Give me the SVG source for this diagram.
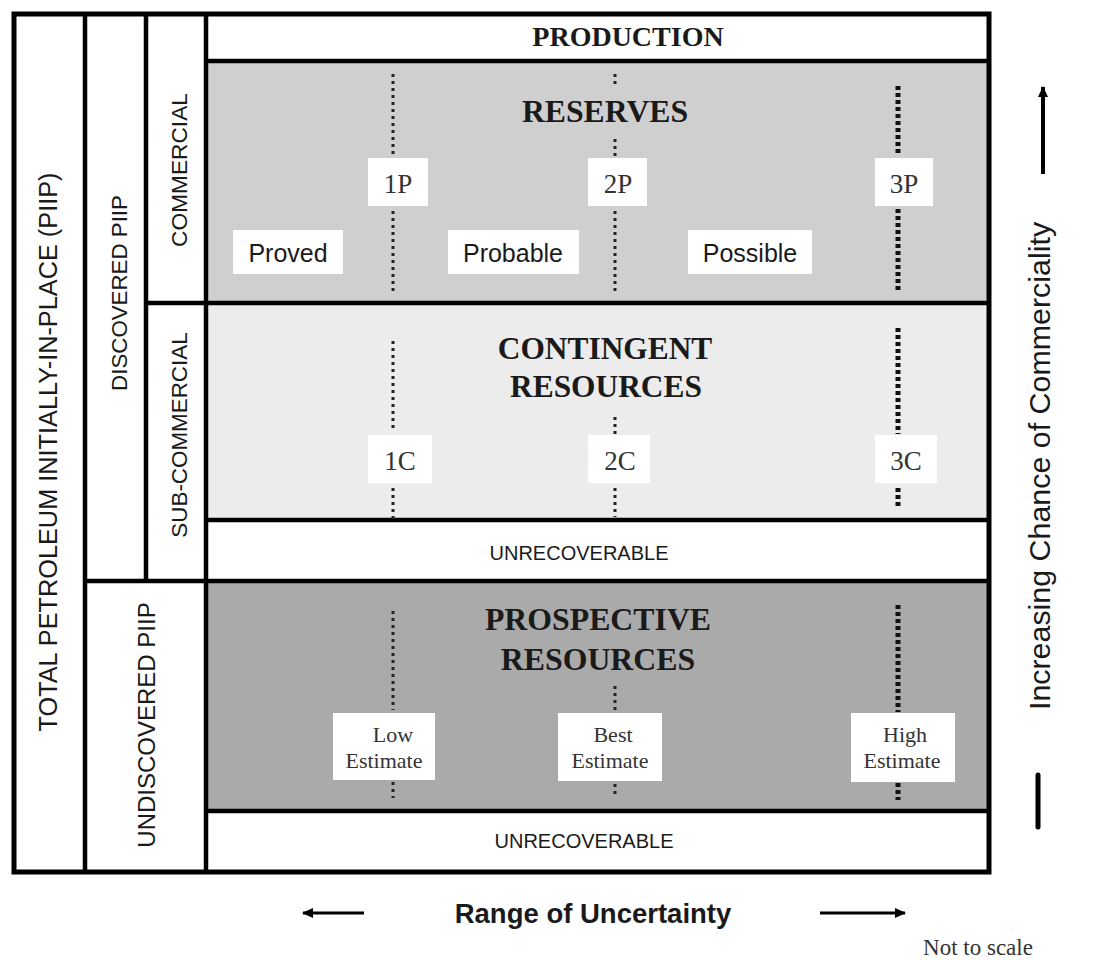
<svg xmlns="http://www.w3.org/2000/svg" width="1099" height="960" viewBox="0 0 1099 960">
<defs>
<style>
.frame{fill:none;stroke:#000;stroke-width:5}
.ln{stroke:#000;stroke-width:4.5;fill:none}
.dot{stroke:#222;stroke-width:3;stroke-dasharray:3 4;fill:none}
.sq{stroke:#111;stroke-width:5;stroke-dasharray:4 3;fill:none}
.box{fill:#fff;stroke:none}
.serifB{font-family:"Liberation Serif","Times New Roman",serif;font-weight:bold;fill:#1a1a1a;text-anchor:middle}
.serif{font-family:"Liberation Serif","Times New Roman",serif;fill:#333;text-anchor:middle}
.sans{font-family:"Liberation Sans",Arial,sans-serif;fill:#1a1a1a;text-anchor:middle}
</style>
<marker id="ah" markerWidth="11" markerHeight="10" refX="10" refY="5" orient="auto" markerUnits="userSpaceOnUse"><path d="M0,0 L11,5 L0,10 Z" fill="#000"/></marker>
</defs>
<rect x="0" y="0" width="1099" height="960" fill="#fff"/>

<g id="fills">
<rect x="206" y="61" width="783" height="242" fill="#cfcfcf"/>
<rect x="206" y="303" width="783" height="217" fill="#ececec"/>
<rect x="206" y="581" width="783" height="230" fill="#aaaaaa"/>
</g>

<g id="grid-lines">
<rect class="frame" x="14" y="14" width="975" height="858"/>
<line class="ln" x1="85" y1="14" x2="85" y2="872"/>
<line class="ln" x1="146" y1="14" x2="146" y2="581"/>
<line class="ln" x1="206" y1="14" x2="206" y2="872"/>
<line class="ln" x1="206" y1="61" x2="989" y2="61"/>
<line class="ln" x1="146" y1="303" x2="989" y2="303"/>
<line class="ln" x1="206" y1="520" x2="989" y2="520"/>
<line class="ln" x1="85" y1="581" x2="989" y2="581"/>
<line class="ln" x1="206" y1="811" x2="989" y2="811"/>
</g>

<g id="piip">
<text class="sans" font-size="25.3" transform="translate(57,452) rotate(-90)">TOTAL PETROLEUM INITIALLY-IN-PLACE  (PIIP)</text>
</g>
<g id="discovered">
<text class="sans" font-size="22.3" transform="translate(127,293) rotate(-90)">DISCOVERED PIIP</text>
</g>
<g id="undiscovered">
<text class="sans" font-size="24" transform="translate(155,725) rotate(-90)">UNDISCOVERED PIIP</text>
</g>
<g id="commercial">
<text class="sans" font-size="22.7" transform="translate(187,170) rotate(-90)">COMMERCIAL</text>
</g>
<g id="subcommercial">
<text class="sans" font-size="22.4" transform="translate(187,435) rotate(-90)">SUB-COMMERCIAL</text>
</g>

<g id="production">
<text class="serifB" font-size="28" x="628" y="46">PRODUCTION</text>
</g>

<g id="reserves">
<text class="serifB" font-size="31.7" x="605" y="122">RESERVES</text>
<line class="dot" x1="393" y1="74" x2="393" y2="156"/>
<line class="dot" x1="393" y1="211" x2="393" y2="292"/>
<line class="dot" x1="615" y1="74" x2="615" y2="86"/>
<line class="dot" x1="615" y1="139" x2="615" y2="157"/>
<line class="dot" x1="615" y1="211" x2="615" y2="292"/>
<line class="sq" x1="898" y1="86" x2="898" y2="156"/>
<line class="sq" x1="898" y1="209" x2="898" y2="291"/>
<rect class="box" x="368" y="158" width="60" height="48"/>
<rect class="box" x="588" y="158" width="59" height="48"/>
<rect class="box" x="875" y="158" width="58" height="48"/>
<text class="serif" font-size="27" x="398" y="193">1P</text>
<text class="serif" font-size="27" x="618" y="193">2P</text>
<text class="serif" font-size="27" x="904" y="193">3P</text>
<rect class="box" x="233" y="230" width="110" height="44"/>
<rect class="box" x="448" y="230" width="131" height="44"/>
<rect class="box" x="688" y="230" width="124" height="44"/>
<text class="sans" font-size="25" x="288" y="262" fill="#333">Proved</text>
<text class="sans" font-size="25" x="513" y="262" fill="#333">Probable</text>
<text class="sans" font-size="25" x="750" y="262" fill="#333">Possible</text>
</g>

<g id="contingent">
<text class="serifB" font-size="31.4" x="605" y="359">CONTINGENT</text>
<text class="serifB" font-size="31.4" x="606" y="397">RESOURCES</text>
<line class="dot" x1="393" y1="341" x2="393" y2="431"/>
<line class="dot" x1="393" y1="488" x2="393" y2="519"/>
<line class="dot" x1="615" y1="417" x2="615" y2="434"/>
<line class="dot" x1="615" y1="488" x2="615" y2="517"/>
<line class="sq" x1="898" y1="328" x2="898" y2="434"/>
<line class="sq" x1="898" y1="488" x2="898" y2="509"/>
<rect class="box" x="368" y="435" width="64" height="48"/>
<rect class="box" x="588" y="435" width="62" height="48"/>
<rect class="box" x="875" y="435" width="62" height="48"/>
<text class="serif" font-size="27" x="400" y="470">1C</text>
<text class="serif" font-size="27" x="620" y="470">2C</text>
<text class="serif" font-size="27" x="906" y="470">3C</text>
</g>

<g id="unrecoverable-1">
<text class="sans" font-size="20" x="579" y="560" fill="#333">UNRECOVERABLE</text>
</g>

<g id="prospective">
<text class="serifB" font-size="31.8" x="598" y="630">PROSPECTIVE</text>
<text class="serifB" font-size="31.8" x="598" y="670">RESOURCES</text>
<line class="dot" x1="393" y1="611" x2="393" y2="710"/>
<line class="dot" x1="393" y1="782" x2="393" y2="798"/>
<line class="dot" x1="615" y1="686" x2="615" y2="710"/>
<line class="dot" x1="615" y1="784" x2="615" y2="798"/>
<line class="sq" x1="898" y1="605" x2="898" y2="712"/>
<line class="sq" x1="898" y1="783" x2="898" y2="800"/>
<rect class="box" x="333" y="713" width="102" height="67"/>
<rect class="box" x="558" y="713" width="104" height="68"/>
<rect class="box" x="851" y="713" width="104" height="69"/>
<text class="serif" font-size="22" x="393" y="742" fill="#444">Low</text>
<text class="serif" font-size="22" x="384" y="768" fill="#444">Estimate</text>
<text class="serif" font-size="22" x="613" y="742" fill="#444">Best</text>
<text class="serif" font-size="22" x="610" y="768" fill="#444">Estimate</text>
<text class="serif" font-size="22" x="905" y="742" fill="#444">High</text>
<text class="serif" font-size="22" x="902" y="768" fill="#444">Estimate</text>
</g>

<g id="unrecoverable-2">
<text class="sans" font-size="20" x="584" y="848" fill="#333">UNRECOVERABLE</text>
</g>

<g id="connectors">
<line x1="1043" y1="174" x2="1043" y2="87" stroke="#000" stroke-width="4" marker-end="url(#ah)"/>
<line x1="1038" y1="775" x2="1038" y2="827" stroke="#000" stroke-width="5" stroke-linecap="round"/>
<line x1="364" y1="913" x2="303" y2="913" stroke="#000" stroke-width="3" marker-end="url(#ah)"/>
<line x1="820" y1="913" x2="905" y2="913" stroke="#000" stroke-width="3" marker-end="url(#ah)"/>
</g>

<g id="axis-labels">
<text class="sans" font-size="30.4" transform="translate(1050,466) rotate(-90)">Increasing Chance of Commerciality</text>
<text class="sans" font-size="27.5" font-weight="bold" x="593" y="923">Range of Uncertainty</text>
<text class="serif" font-size="23" x="978" y="955" fill="#222">Not to scale</text>
</g>
</svg>
